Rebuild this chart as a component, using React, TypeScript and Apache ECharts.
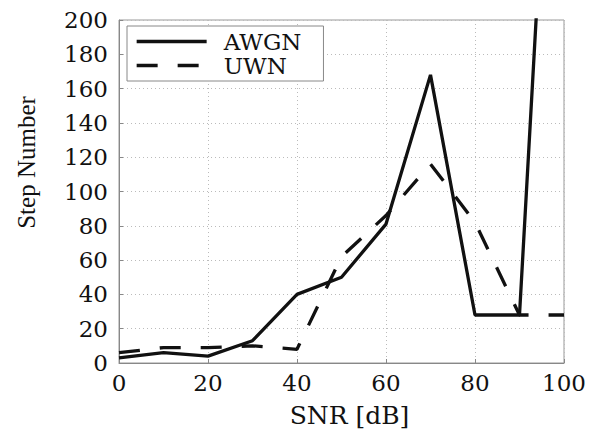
import React, { useEffect, useRef } from "react";
import * as echarts from "echarts";

const snr = [0, 10, 20, 30, 40, 50, 60, 70, 80, 90, 100];
const awgn = [3, 6, 4, 13, 40, 50, 81, 168, 28, 28, 490];
const uwn = [6, 9, 9, 10, 8, 62, 86, 116, 82, 28, 28];
const seriesNames = ["AWGN", "UWN"];

const SERIF = "DejaVu Serif";

export default function App() {
  const ref = useRef<HTMLDivElement>(null);
  useEffect(() => {
    if (!ref.current) return;
    const chart = echarts.init(ref.current, undefined, { renderer: "svg" });
    const toPairs = (ys: number[]) => snr.map((x, i) => [x, ys[i]]);
    chart.setOption({
      animation: false,
      backgroundColor: "#fff",
      grid: {
        left: 119,
        right: 34,
        top: 20,
        bottom: 68,
        show: true,
        borderColor: "#999",
        borderWidth: 1,
      },
      legend: {
        orient: "vertical",
        left: 127,
        top: 26,
        padding: [4, 22, 4, 8],
        itemGap: 1,
        itemWidth: 70,
        itemHeight: 22,
        borderColor: "#888",
        borderWidth: 1,
        backgroundColor: "#fff",
        itemStyle: { opacity: 0 },
        lineStyle: { width: 3.3, color: "#111" },
        textStyle: {
          fontFamily: SERIF,
          fontSize: 23,
          color: "#111",
          lineHeight: 23,
          padding: [0, 0, 0, 12],
        },
        data: seriesNames,
      },
      xAxis: {
        type: "value",
        min: 0,
        max: 100,
        interval: 20,
        name: "SNR [dB]",
        nameLocation: "middle",
        nameGap: 40,
        nameTextStyle: {
          fontFamily: SERIF,
          fontSize: 25,
          color: "#111",
          padding: [0, 0, 0, 16],
        },
        axisLine: { lineStyle: { color: "#888", width: 1 } },
        axisTick: { show: true, inside: true, length: 4, lineStyle: { color: "#888" } },
        axisLabel: { fontFamily: SERIF, fontSize: 23, color: "#111", margin: 8 },
        splitLine: { show: true, lineStyle: { color: "#bbb", type: [1, 3], width: 1 } },
      },
      yAxis: {
        type: "value",
        min: 0,
        max: 200,
        interval: 20,
        name: "Step Number",
        nameLocation: "middle",
        nameRotate: 90,
        nameGap: 80,
        nameTextStyle: {
          fontFamily: "Liberation Serif",
          fontSize: 25,
          color: "#111",
          padding: [0, 0, 0, 58],
        },
        axisLine: { show: true, lineStyle: { color: "#888", width: 1 } },
        axisTick: { show: true, inside: true, length: 4, lineStyle: { color: "#888" } },
        axisLabel: { fontFamily: SERIF, fontSize: 23, color: "#111", margin: 11 },
        splitLine: { show: true, lineStyle: { color: "#bbb", type: [1, 3], width: 1 } },
      },
      series: [
        {
          name: seriesNames[0],
          type: "line",
          data: toPairs(awgn),
          symbol: "none",
          clip: true,
          lineStyle: { color: "#111", width: 3.3 },
          itemStyle: { color: "#111" },
        },
        {
          name: seriesNames[1],
          type: "line",
          data: toPairs(uwn),
          symbol: "none",
          clip: true,
          lineStyle: { color: "#111", width: 3.3, type: [21, 20] },
          itemStyle: { color: "#111" },
        },
      ],
    });
    return () => chart.dispose();
  }, []);
  return <div ref={ref} style={{ width: 598, height: 433, position: "absolute", left: 0, top: 0 }} />;
}
